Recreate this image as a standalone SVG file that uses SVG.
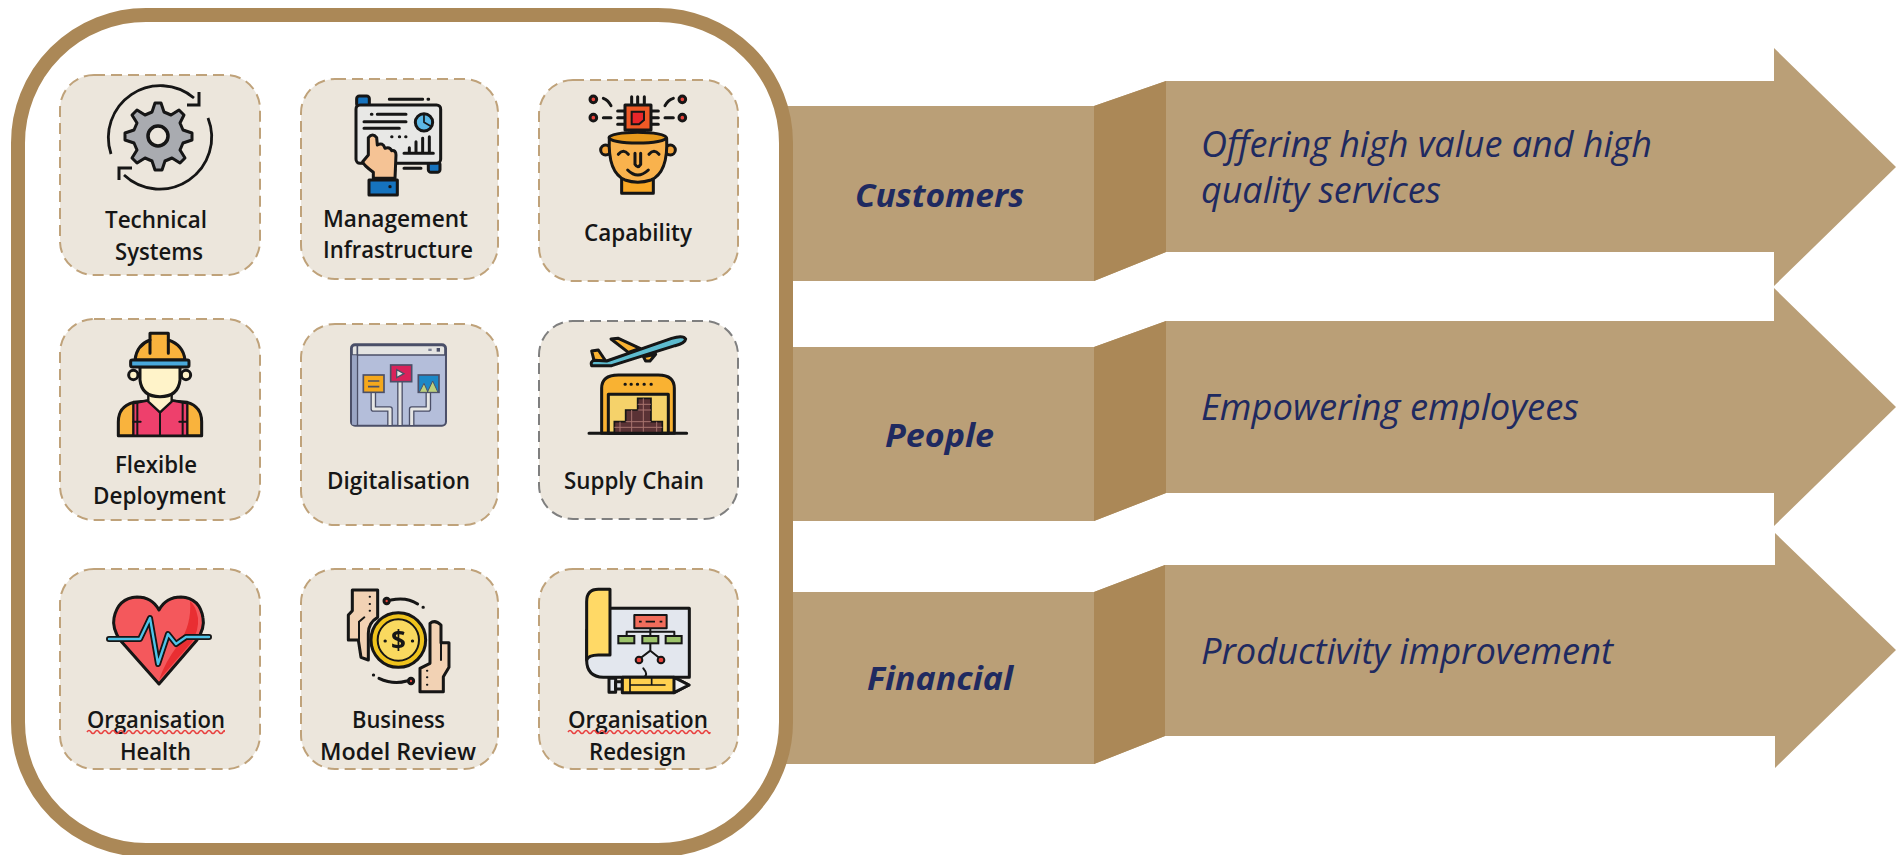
<svg xmlns="http://www.w3.org/2000/svg" width="1902" height="855" viewBox="0 0 1902 855">
<style>
.card{fill:#ECE6DC;stroke:#BFA27A;stroke-width:2;stroke-dasharray:11 6}
.lbl{font-family:"Open Sans","Noto Sans",sans-serif;font-weight:600;font-size:24px;fill:#161616}
.head{font-family:"Open Sans","Noto Sans",sans-serif;font-weight:700;font-style:italic;font-size:33px;fill:#1F2A60}
.desc{font-family:"Open Sans","Noto Sans",sans-serif;font-weight:400;font-style:italic;font-size:36px;fill:#1F2A60}
.body{fill:#BA9F77}
.fold{fill:#AB8857}
.squig{fill:none;stroke:#E8403F;stroke-width:1.5}
.o{stroke:#141414;stroke-width:9;stroke-linejoin:round;stroke-linecap:round}
.n{fill:none;stroke:#141414;stroke-width:9;stroke-linejoin:round;stroke-linecap:round}
.ic{filter:url(#soft)}
</style>
<defs>
<filter id="soft" x="-5%" y="-5%" width="110%" height="110%"><feGaussianBlur stdDeviation="0.55"/></filter>
</defs>
<rect width="1902" height="855" fill="#ffffff"/>

<g id="arrows">
<g id="arrow-customers">
<path class="body" d="M780 106H1094L1166 81H1774V48L1896 167L1774 286V252H1166L1094 281H780Z"/>
<path class="fold" d="M1094 106L1166 81V252L1094 281Z"/>
<text class="head" x="855" y="207" textLength="169" lengthAdjust="spacingAndGlyphs">Customers</text>
<text class="desc" x="1201" y="157" textLength="451" lengthAdjust="spacingAndGlyphs">Offering high value and high</text>
<text class="desc" x="1201" y="203" textLength="240" lengthAdjust="spacingAndGlyphs">quality services</text>
</g>
<g id="arrow-people">
<path class="body" d="M780 347H1094L1166 321H1774V288L1896 407L1774 526V493H1166L1094 521H780Z"/>
<path class="fold" d="M1094 347L1166 321V493L1094 521Z"/>
<text class="head" x="885" y="447" textLength="109" lengthAdjust="spacingAndGlyphs">People</text>
<text class="desc" x="1201" y="420" textLength="378" lengthAdjust="spacingAndGlyphs">Empowering employees</text>
</g>
<g id="arrow-financial">
<path class="body" d="M780 592H1094L1165 565H1775V533L1896 650L1775 768V736H1165L1094 764H780Z"/>
<path class="fold" d="M1094 592L1165 565V736L1094 764Z"/>
<text class="head" x="867" y="690" textLength="146" lengthAdjust="spacingAndGlyphs">Financial</text>
<text class="desc" x="1201" y="664" textLength="412" lengthAdjust="spacingAndGlyphs">Productivity improvement</text>
</g>
</g>

<g id="frame">
<rect x="18" y="15" width="768" height="835" rx="128" ry="128" fill="#ffffff" stroke="#AB8857" stroke-width="14"/>
</g>

<g id="node-technical-systems">
<rect class="card" x="60" y="75" width="200" height="200" rx="34"/>
<g class="ic">
<path d="M158 103l6 0 3 9 7 3 8-5 5 5-4 8 3 7 9 3 0 7-9 3-3 7 5 8-5 5-8-5-7 3-3 9-7 0-3-9-7-3-8 5-5-5 5-8-3-7-9-3 0-7 9-3 3-7-5-8 5-5 8 5 7-3z" fill="#A9ABB0" stroke="#141414" stroke-width="3" stroke-linejoin="round" transform="translate(-3 0)"/>
<circle cx="158" cy="136" r="10" fill="#ECE6DC" stroke="#141414" stroke-width="3.5"/>
<path d="M111 154A52 52 0 0 1 194 98" fill="none" stroke="#141414" stroke-width="2.8"/>
<path d="M199 92V105H187" fill="none" stroke="#141414" stroke-width="3"/>
<path d="M208 118A52 52 0 0 1 124 175" fill="none" stroke="#141414" stroke-width="2.8"/>
<path d="M119 180V168H132" fill="none" stroke="#141414" stroke-width="3"/>
</g>
<text class="lbl" x="105" y="228" textLength="102" lengthAdjust="spacingAndGlyphs">Technical</text>
<text class="lbl" x="115" y="260" textLength="88" lengthAdjust="spacingAndGlyphs">Systems</text>
</g>

<g id="node-management-infrastructure">
<rect class="card" x="301" y="79" width="197" height="200" rx="34"/>
<g class="ic" transform="translate(340 85) scale(.3333)">
<rect class="o" x="50" y="33" width="38" height="32" rx="8" fill="#1273BE"/>
<rect class="o" x="265" y="230" width="35" height="32" rx="8" fill="#1273BE"/>
<rect class="o" x="48" y="60" width="254" height="175" rx="12" fill="#E8E8E6"/>
<path class="n" d="M148 43H248M264 43h2M94 88h2M112 88H198M72 110H198M72 130H178M155 155h1M178 155h1M197 155h1M192 205H280M208 205V188M228 205V170M248 205V160M268 205V155M192 250H243"/>
<circle class="o" cx="252" cy="112" r="26" fill="#5BB8E6"/>
<path class="n" style="stroke-width:5" d="M252 90V112L270 122"/>
<path class="o" d="M85 158Q98 142 110 158L112 180Q128 170 135 190Q150 185 155 197Q168 195 168 210L165 280H100V262Q70 240 68 230L85 210Z" fill="#F5C395"/>
<rect class="o" x="87" y="285" width="85" height="45" fill="#1273BE"/>
<circle cx="150" cy="305" r="5" fill="#141414"/>
</g>
<text class="lbl" x="323" y="227" textLength="145" lengthAdjust="spacingAndGlyphs">Management</text>
<text class="lbl" x="323" y="258" textLength="150" lengthAdjust="spacingAndGlyphs">Infrastructure</text>
</g>

<g id="node-capability">
<rect class="card" x="539" y="80" width="199" height="201" rx="34"/>
<g class="ic" transform="translate(575 85) scale(.3333)">
<path class="n" d="M170 35V60M188 35V60M208 35V60M128 78H150M128 98H150M128 118H150M228 78H250M228 98H250M228 118H250M85 40Q100 46 108 62M85 98H108M270 62Q278 46 295 40M270 98H295M170 135V160M188 135V160M208 135V160"/>
<rect class="o" x="150" y="60" width="78" height="75" fill="#EF5A28"/>
<path d="M170 80H207V105L192 118H170Z" fill="#E8262B" stroke="#141414" stroke-width="6"/>
<circle class="o" cx="55" cy="43" r="10" fill="#E8453C"/>
<circle class="o" cx="55" cy="98" r="10" fill="#E8453C"/>
<circle class="o" cx="322" cy="43" r="10" fill="#E8453C"/>
<circle class="o" cx="322" cy="98" r="10" fill="#E8453C"/>
<circle class="o" cx="92" cy="195" r="15" fill="#F5A53A"/>
<circle class="o" cx="286" cy="195" r="15" fill="#F5A53A"/>
<rect class="o" x="140" y="275" width="95" height="50" fill="#F9A825"/>
<path class="o" d="M103 160Q98 262 150 285Q188 298 228 285Q280 262 275 160Z" fill="#F9B24E"/>
<ellipse class="o" cx="188" cy="158" rx="86" ry="16" fill="#E89A1F"/>
<path class="n" d="M130 208Q145 190 160 208M222 208Q237 190 252 208M180 205V238Q188 252 197 238V205M158 255Q188 285 220 255"/>
</g>
<text class="lbl" x="584" y="241" textLength="108" lengthAdjust="spacingAndGlyphs">Capability</text>
</g>

<g id="node-flexible-deployment">
<rect class="card" x="60" y="319" width="200" height="201" rx="34"/>
<g class="ic" transform="translate(100 325) scale(.3333)">
<path class="o" d="M55 332V290Q55 245 100 232L180 225L262 232Q305 245 305 290V332Z" fill="#F9B33E"/>
<path d="M100 332V235L150 225L180 262L210 225L262 235V332Z" fill="#EE3F6C" stroke="#141414" stroke-width="7" stroke-linejoin="round"/>
<path class="n" style="stroke-width:6" d="M112 235V332M248 235V332M180 262V332M100 290H122M238 290H260"/>
<path d="M145 200V230L180 262L215 230V200Z" fill="#FFF3C9" stroke="#141414" stroke-width="7" stroke-linejoin="round"/>
<circle class="o" cx="100" cy="150" r="14" fill="#FFF3C9"/>
<circle class="o" cx="258" cy="150" r="14" fill="#FFF3C9"/>
<path class="o" d="M120 125V165Q125 215 180 215Q235 215 240 165V125Z" fill="#FFF3C9"/>
<path class="o" d="M105 105Q110 60 150 45V25H205V45Q250 60 255 105Z" fill="#F9B33E"/>
<path class="n" d="M150 45V85M205 45V85"/>
<rect class="o" x="92" y="105" width="175" height="21" rx="5" fill="#4AA9DC"/>
</g>
<text class="lbl" x="115" y="473" textLength="82" lengthAdjust="spacingAndGlyphs">Flexible</text>
<text class="lbl" x="93" y="504" textLength="133" lengthAdjust="spacingAndGlyphs">Deployment</text>
</g>

<g id="node-digitalisation">
<rect class="card" x="301" y="324" width="197" height="201" rx="34"/>
<g class="ic" transform="translate(340 335) scale(.3333)">
<rect x="33" y="28" width="285" height="244" rx="12" fill="#B4BEDA" stroke="#4B5068" stroke-width="6"/>
<path d="M36 60V40Q36 31 45 31H306Q315 31 315 40V60Z" fill="#E4E4E2" stroke="#4B5068" stroke-width="5"/>
<path d="M52 30V270" stroke="#4B5068" stroke-width="5" fill="none"/>
<rect x="36" y="61" width="14" height="208" fill="#9AA5C4"/>
<rect x="265" y="41" width="10" height="7" fill="#7B8094"/><rect x="290" y="39" width="10" height="11" fill="#4B5068"/>
<g fill="none" stroke-linejoin="round">
<path stroke="#4B5068" stroke-width="17" d="M100 172V222H150V270M180 140V270M265 172V222H215V270"/>
<path stroke="#E6E6E4" stroke-width="9" d="M100 172V222H150V270M180 140V270M265 172V222H215V270"/>
</g>
<rect x="70" y="120" width="62" height="52" fill="#F5A81D" stroke="#4B5068" stroke-width="5"/>
<path d="M84 138H118M84 155H118" stroke="#4B5068" stroke-width="5"/>
<rect x="152" y="90" width="63" height="50" fill="#D9245A" stroke="#4B5068" stroke-width="5"/>
<path d="M170 104L192 116L170 128Z" fill="#E6E6E4" stroke="#4B5068" stroke-width="4"/>
<rect x="235" y="120" width="62" height="52" fill="#1E88C7" stroke="#4B5068" stroke-width="5"/>
<path d="M238 172L252 145L264 172ZM262 172L278 138L294 172Z" fill="#BDD17D" stroke="#4B5068" stroke-width="3"/>
</g>
<text class="lbl" x="327" y="489" textLength="143" lengthAdjust="spacingAndGlyphs">Digitalisation</text>
</g>

<g id="node-supply-chain">
<rect class="card" x="539" y="321" width="199" height="198" rx="34" style="stroke:#7F7F7F"/>
<g class="ic" transform="translate(575 325) scale(.3333)">
<path class="o" d="M50 78L70 75L92 108L58 110Z" fill="#F9B233"/>
<path class="o" d="M108 42L130 40L195 70L160 82Z" fill="#F9B233"/>
<path class="o" d="M205 95L242 88L225 108L212 108Z" fill="#F9B233"/>
<path class="o" d="M50 122Q45 108 60 106L95 108L290 40Q325 30 332 42Q330 55 300 62L110 122Z" fill="#5DBBCF"/>
<path class="o" d="M80 325V190Q80 150 130 150H250Q298 150 298 190V325Z" fill="#F9B233"/>
<rect class="o" x="100" y="208" width="180" height="117" fill="#F5D26A"/>
<path d="M118 325V290H152V255H188V220H228V290H262V325Z" fill="#5A3035" stroke="#141414" stroke-width="5"/>
<path d="M152 290H228M118 307H262M170 255V325M205 220V325M135 290V325M245 290V325M188 255H228M188 238H228" stroke="#A9756F" stroke-width="3" fill="none"/>
<path class="n" d="M42 325H335M150 178h1M168 178h1M187 178h1M207 178h1M228 178h1"/>
</g>
<text class="lbl" x="564" y="489" textLength="140" lengthAdjust="spacingAndGlyphs">Supply Chain</text>
</g>

<g id="node-organisation-health">
<rect class="card" x="60" y="569" width="200" height="200" rx="34"/>
<g class="ic">
<path d="M159 684L120 640Q112 628 114 618Q118 598 137 597Q152 597 159 610Q166 597 181 597Q200 598 203 618Q205 628 197 640Z" fill="#F4595C" stroke="#141414" stroke-width="3" stroke-linejoin="round"/>
<path d="M159 680L192 642Q199 630 198 618Q196 606 190 601Q192 625 178 645Q165 662 159 680Z" fill="#E92F33"/>
<g fill="none" stroke-linejoin="round" stroke-linecap="round">
<path stroke="#141414" stroke-width="6" d="M109 639H140L150 618L158 664L168 634L176 644L186 637H209"/>
<path stroke="#4FC3E8" stroke-width="2.4" d="M109 639H140L150 618L158 664L168 634L176 644L186 637H209"/>
</g>
</g>
<text class="lbl" x="87" y="728" textLength="138" lengthAdjust="spacingAndGlyphs">Organisation</text>
<path class="squig" d="M87 732q2-3 4 0t4 0t4 0t4 0t4 0t4 0t4 0t4 0t4 0t4 0t4 0t4 0t4 0t4 0t4 0t4 0t4 0t4 0t4 0t4 0t4 0t4 0t4 0t4 0t4 0t4 0t4 0t4 0t4 0t4 0t4 0t4 0t4 0t4 0t1 0"/>
<text class="lbl" x="120" y="760" textLength="71" lengthAdjust="spacingAndGlyphs">Health</text>
</g>

<g id="node-business-model-review">
<rect class="card" x="301" y="569" width="197" height="200" rx="34"/>
<g class="ic" transform="translate(335 580) scale(.3333)">
<path class="o" d="M52 30H128V112Q100 128 100 160V240L78 232L70 180H40V105L52 92Z" fill="#F2D2B4"/>
<path class="n" style="stroke-width:6" d="M72 178V125L88 112"/>
<path class="o" d="M255 335V265L285 250V130Q300 118 318 135V188H342V262L325 290V335Z" fill="#F2D2B4"/>
<path class="n" style="stroke-width:6" d="M318 188V240M104 50h1M104 72h1M104 92h1M276 272h1M276 292h1M276 314h1"/>
<circle class="o" cx="190" cy="180" r="82" fill="#EFC31D"/>
<circle cx="190" cy="180" r="62" fill="#F9D95F" stroke="#141414" stroke-width="6"/>
<text x="190" y="207" font-family="'Open Sans',sans-serif" font-weight="700" font-size="78" text-anchor="middle" fill="#141414">$</text>
<path class="n" d="M150 183h1M232 183h1M168 60Q215 50 248 72M264 82h1M132 295Q175 315 215 303M115 285h1"/>
<circle class="o" cx="155" cy="63" r="8" fill="#E8453C"/>
<circle class="o" cx="228" cy="303" r="8" fill="#E8453C"/>
</g>
<text class="lbl" x="352" y="728" textLength="93" lengthAdjust="spacingAndGlyphs">Business</text>
<text class="lbl" x="320" y="760" textLength="156" lengthAdjust="spacingAndGlyphs">Model Review</text>
</g>

<g id="node-organisation-redesign">
<rect class="card" x="539" y="569" width="199" height="200" rx="34"/>
<g class="ic" transform="translate(575 580) scale(.3333)">
<path class="o" d="M105 85H343V292H85Q35 290 35 240V150Z" fill="#E3E7EE"/>
<path class="o" d="M105 28H70Q35 28 35 65V240Q40 225 70 225H105Z" fill="#FFD966"/>
<path class="n" style="stroke-width:6" d="M226 145V168M155 168V155H298V168M226 190V212L192 238M226 212L258 238M205 265Q222 285 205 292"/>
<rect class="o" x="178" y="105" width="97" height="40" fill="#F26D5B" style="stroke-width:6"/>
<path d="M192 125h8M212 125h28M254 125h8" stroke="#141414" stroke-width="5"/>
<rect x="130" y="168" width="48" height="22" fill="#9CC36B" stroke="#141414" stroke-width="6"/>
<rect x="202" y="168" width="48" height="22" fill="#9CC36B" stroke="#141414" stroke-width="6"/>
<rect x="272" y="168" width="48" height="22" fill="#9CC36B" stroke="#141414" stroke-width="6"/>
<circle cx="192" cy="240" r="10" fill="#E8453C" stroke="#141414" stroke-width="6"/>
<circle cx="258" cy="240" r="10" fill="#E8453C" stroke="#141414" stroke-width="6"/>
<rect class="o" x="102" y="295" width="20" height="42" fill="#E3E7EE"/>
<rect class="o" x="122" y="305" width="20" height="22" fill="#E3E7EE"/>
<path class="o" d="M142 292H297L342 315L297 338H142Z" fill="#FFD04F"/>
<path class="o" d="M297 292L342 315L297 338Z" fill="#EFEFEF"/>
<path class="n" style="stroke-width:5" d="M165 292V338M165 315H270M230 295V315"/>
</g>
<text class="lbl" x="568" y="728" textLength="140" lengthAdjust="spacingAndGlyphs">Organisation</text>
<path class="squig" d="M568 732q2-3 4 0t4 0t4 0t4 0t4 0t4 0t4 0t4 0t4 0t4 0t4 0t4 0t4 0t4 0t4 0t4 0t4 0t4 0t4 0t4 0t4 0t4 0t4 0t4 0t4 0t4 0t4 0t4 0t4 0t4 0t4 0t4 0t4 0t4 0t4 0t2 0"/>
<text class="lbl" x="589" y="760" textLength="97" lengthAdjust="spacingAndGlyphs">Redesign</text>
</g>
</svg>
